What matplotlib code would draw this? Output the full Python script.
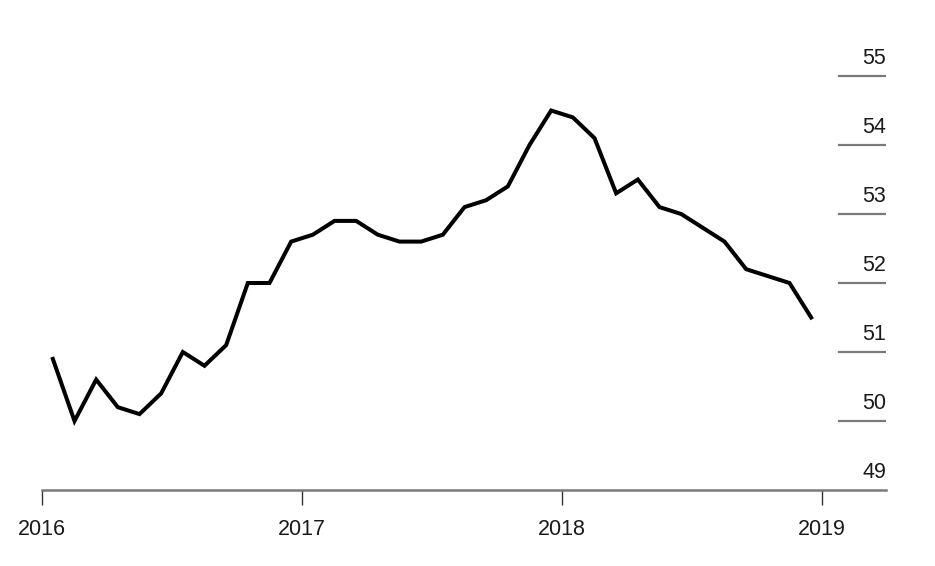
import matplotlib
matplotlib.use("Agg")
import matplotlib.pyplot as plt
import numpy as np

years = [2016, 2017, 2018]
values = [50.9, 50.0, 50.6, 50.2, 50.1, 50.4, 51.0, 50.8, 51.1, 52.0, 52.0, 52.6,
          52.7, 52.9, 52.9, 52.7, 52.6, 52.6, 52.7, 53.1, 53.2, 53.4, 54.0, 54.5,
          54.4, 54.1, 53.3, 53.5, 53.1, 53.0, 52.8, 52.6, 52.2, 52.1, 52.0, 51.5]
y_ticks = [49, 50, 51, 52, 53, 54, 55]
x_ticks = [2016, 2017, 2018, 2019]
x_labels = ["2016", "2017", "2018", "2019"]

# mid-month positions in fractional years
xs = np.array([years[0] + (i + 0.5) / 12 for i in range(len(values))])

plt.rcParams['font.family'] = ['Liberation Sans', 'DejaVu Sans']

fig = plt.figure(figsize=(9.35, 5.66), dpi=100)
W, H = 935, 566
left, right, top, bottom = 42, 886, 50, 490
ax = fig.add_axes([left / W, 1 - bottom / H, (right - left) / W, (bottom - top) / H])

x0, x1 = 2016, 2016 + (right - left) / 260
y0 = 49
y1 = 49 + (bottom - top) / 69
ax.set_xlim(x0, x1)
ax.set_ylim(y0, y1)

ax.plot(xs, values, color='black', lw=2.9, solid_joinstyle='miter', zorder=3)

# short gridline segments on the right
gx0 = (839 - left) / (right - left)
for v in y_ticks:
    if v == y_ticks[0]:
        continue
    ax.axhline(v, xmin=gx0, xmax=1, color='#7a7a7a', lw=1.6, zorder=1)
for v in y_ticks:
    ax.annotate(str(v), xy=(1, v), xycoords=('axes fraction', 'data'),
                xytext=(0, 5), textcoords='offset points',
                ha='right', va='bottom', fontsize=15.5, color='#1a1a1a')

for s in ['top', 'right', 'left']:
    ax.spines[s].set_visible(False)
ax.spines['bottom'].set_color('#7a7a7a')
ax.spines['bottom'].set_linewidth(1.8)

ax.set_yticks([])
ax.set_xticks(x_ticks)
ax.set_xticklabels(x_labels, fontsize=15.5, color='#1a1a1a')
ax.tick_params(axis='x', length=11, width=1.0, color='#333333', pad=10)

fig.savefig("out.png", dpi=100)
